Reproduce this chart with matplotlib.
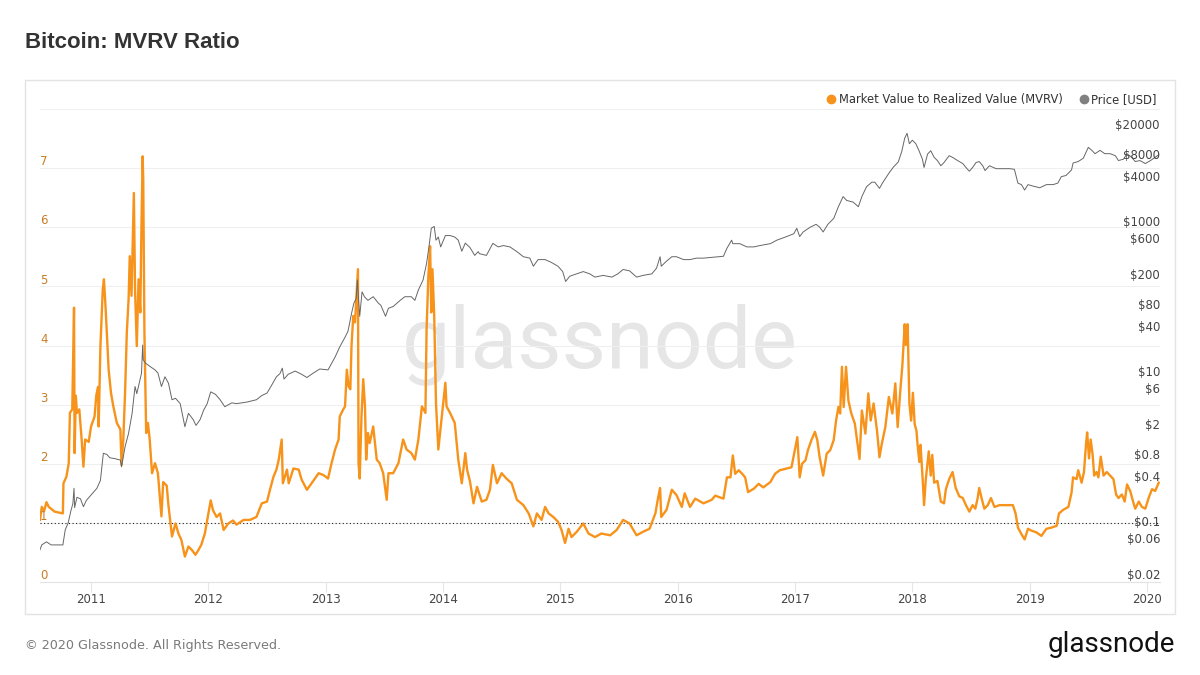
import matplotlib
matplotlib.use("Agg")
import matplotlib.pyplot as plt
from matplotlib.lines import Line2D
from matplotlib.patches import Rectangle
import matplotlib.transforms as mtransforms

# time axis in decimal years
mvrv_t = [
    2010.565, 2010.58, 2010.60, 2010.62, 2010.64, 2010.69, 2010.76, 2010.765, 2010.79, 2010.81,
    2010.82, 2010.84, 2010.855, 2010.86, 2010.87, 2010.88, 2010.90, 2010.92, 2010.935, 2010.95,
    2010.98, 2011.00, 2011.03, 2011.045, 2011.06, 2011.065, 2011.08, 2011.10, 2011.11, 2011.125,
    2011.14, 2011.15, 2011.17, 2011.19, 2011.22, 2011.25, 2011.26, 2011.275, 2011.29, 2011.305,
    2011.32, 2011.33, 2011.345, 2011.36, 2011.365, 2011.375, 2011.39, 2011.405, 2011.42, 2011.43,
    2011.44, 2011.445, 2011.455, 2011.47, 2011.485, 2011.50, 2011.52, 2011.545, 2011.57, 2011.60,
    2011.615, 2011.645, 2011.66, 2011.69, 2011.72, 2011.745, 2011.77, 2011.80, 2011.83, 2011.86,
    2011.89, 2011.915, 2011.94, 2011.97, 2012.00, 2012.02, 2012.04, 2012.07, 2012.10, 2012.13,
    2012.17, 2012.21, 2012.24, 2012.30, 2012.355, 2012.41, 2012.455, 2012.50, 2012.525, 2012.555,
    2012.58, 2012.60, 2012.625, 2012.635, 2012.67, 2012.685, 2012.725, 2012.77, 2012.795, 2012.84,
    2012.88, 2012.94, 2012.98, 2013.02, 2013.05, 2013.08, 2013.11, 2013.12, 2013.15, 2013.165,
    2013.18, 2013.195, 2013.21, 2013.22, 2013.235, 2013.25, 2013.265, 2013.275, 2013.28, 2013.29,
    2013.305, 2013.32, 2013.335, 2013.345, 2013.36, 2013.375, 2013.405, 2013.435, 2013.46, 2013.49,
    2013.52, 2013.535, 2013.575, 2013.62, 2013.66, 2013.69, 2013.73, 2013.76, 2013.79, 2013.82,
    2013.85, 2013.86, 2013.875, 2013.89, 2013.90, 2013.91, 2013.925, 2013.94, 2013.96, 2013.99,
    2014.02, 2014.03, 2014.06, 2014.10, 2014.13, 2014.16, 2014.19, 2014.205, 2014.23, 2014.26,
    2014.29, 2014.33, 2014.37, 2014.40, 2014.425, 2014.46, 2014.50, 2014.54, 2014.585, 2014.63,
    2014.685, 2014.73, 2014.77, 2014.80, 2014.84, 2014.87, 2014.90, 2014.94, 2014.98, 2015.01,
    2015.04, 2015.07, 2015.095, 2015.14, 2015.195, 2015.24, 2015.295, 2015.35, 2015.425, 2015.48,
    2015.535, 2015.59, 2015.65, 2015.705, 2015.76, 2015.81, 2015.83, 2015.85, 2015.86, 2015.905,
    2015.95, 2015.99, 2016.035, 2016.06, 2016.105, 2016.15, 2016.22, 2016.29, 2016.32, 2016.39,
    2016.42, 2016.45, 2016.47, 2016.49, 2016.52, 2016.55, 2016.575, 2016.60, 2016.65, 2016.69,
    2016.73, 2016.79, 2016.83, 2016.87, 2016.93, 2016.97, 2017.00, 2017.02, 2017.04, 2017.06,
    2017.09, 2017.11, 2017.14, 2017.17, 2017.19, 2017.21, 2017.24, 2017.27, 2017.30, 2017.33,
    2017.35, 2017.37, 2017.385, 2017.40, 2017.415, 2017.435, 2017.455, 2017.48, 2017.51, 2017.55,
    2017.57, 2017.60, 2017.625, 2017.645, 2017.67, 2017.70, 2017.72, 2017.74, 2017.77, 2017.80,
    2017.83, 2017.855, 2017.875, 2017.90, 2017.915, 2017.935, 2017.945, 2017.96, 2017.975, 2017.99,
    2018.005, 2018.02, 2018.035, 2018.045, 2018.06, 2018.07, 2018.09, 2018.10, 2018.115, 2018.14,
    2018.157, 2018.17, 2018.186, 2018.214, 2018.243, 2018.27, 2018.286, 2018.314, 2018.343, 2018.37,
    2018.40, 2018.43, 2018.457, 2018.486, 2018.514, 2018.537, 2018.557, 2018.57, 2018.594, 2018.614,
    2018.643, 2018.67, 2018.70, 2018.743, 2018.80, 2018.857, 2018.88, 2018.90, 2018.93, 2018.957,
    2018.986, 2019.014, 2019.057, 2019.10, 2019.143, 2019.186, 2019.23, 2019.25, 2019.286, 2019.33,
    2019.357, 2019.37, 2019.40, 2019.414, 2019.443, 2019.463, 2019.48, 2019.49, 2019.506, 2019.52,
    2019.537, 2019.55, 2019.57, 2019.586, 2019.606, 2019.63, 2019.657, 2019.686, 2019.714, 2019.737,
    2019.757, 2019.786, 2019.81, 2019.83, 2019.857, 2019.886, 2019.90, 2019.93, 2019.957, 2019.986,
    2020.014, 2020.043, 2020.07, 2020.10,
]
mvrv = [
    1.05, 1.27, 1.20, 1.35, 1.27, 1.19, 1.16, 1.67, 1.78, 2.01,
    2.86, 2.92, 4.64, 2.18, 3.15, 2.86, 2.92, 2.41, 1.95, 2.41,
    2.37, 2.63, 2.80, 3.16, 3.30, 2.63, 3.99, 4.95, 5.12, 4.60,
    3.99, 3.59, 3.20, 2.97, 2.69, 2.58, 1.98, 2.41, 3.20, 4.22,
    4.78, 5.51, 4.84, 6.18, 6.58, 4.95, 3.99, 5.12, 4.56, 6.06,
    7.20, 6.80, 4.22, 2.52, 2.69, 2.41, 1.84, 2.01, 1.84, 1.11,
    1.69, 1.63, 1.29, 0.77, 0.99, 0.82, 0.71, 0.43, 0.60, 0.54,
    0.46, 0.54, 0.63, 0.82, 1.16, 1.38, 1.21, 1.10, 1.16, 0.88,
    0.99, 1.04, 0.97, 1.05, 1.05, 1.10, 1.33, 1.36, 1.56, 1.78,
    1.90, 2.07, 2.41, 1.67, 1.90, 1.67, 1.92, 1.90, 1.73, 1.56,
    1.67, 1.84, 1.81, 1.75, 2.01, 2.24, 2.41, 2.80, 2.92, 2.97,
    3.59, 3.31, 3.26, 3.99, 4.50, 4.39, 4.95, 5.29, 2.01, 1.75,
    2.80, 3.43, 2.97, 2.07, 2.52, 2.35, 2.63, 2.07, 2.01, 1.84,
    1.39, 1.84, 1.84, 2.01, 2.41, 2.24, 2.18, 2.07, 2.41, 2.97,
    2.86, 4.28, 5.17, 5.68, 4.56, 5.29, 4.50, 3.03, 2.24, 2.80,
    3.37, 2.97, 2.86, 2.69, 2.07, 1.67, 2.18, 1.90, 1.70, 1.33,
    1.61, 1.36, 1.39, 1.56, 1.98, 1.67, 1.84, 1.75, 1.67, 1.39,
    1.30, 1.16, 0.94, 1.16, 1.05, 1.27, 1.16, 1.10, 1.02, 0.88,
    0.66, 0.90, 0.76, 0.85, 0.99, 0.82, 0.76, 0.82, 0.79, 0.88,
    1.05, 0.99, 0.79, 0.85, 0.90, 1.16, 1.39, 1.59, 1.10, 1.22,
    1.56, 1.47, 1.27, 1.50, 1.27, 1.41, 1.33, 1.39, 1.46, 1.41,
    1.77, 1.77, 2.14, 1.83, 1.89, 1.83, 1.77, 1.52, 1.58, 1.66,
    1.60, 1.69, 1.83, 1.89, 1.92, 1.94, 2.25, 2.45, 1.77, 2.00,
    2.06, 2.23, 2.40, 2.54, 2.40, 2.11, 1.80, 2.17, 2.23, 2.40,
    2.73, 2.96, 2.85, 3.64, 2.96, 3.64, 3.07, 2.85, 2.68, 2.08,
    2.90, 2.51, 3.19, 2.73, 3.02, 2.54, 2.11, 2.34, 2.62, 3.13,
    2.85, 3.36, 2.62, 3.30, 3.66, 4.36, 4.01, 4.36, 3.02, 2.73,
    3.20, 2.67, 2.56, 2.32, 2.03, 2.32, 1.68, 1.30, 1.74, 2.21,
    1.80, 2.15, 1.68, 1.71, 1.36, 1.33, 1.57, 1.74, 1.86, 1.59,
    1.45, 1.42, 1.30, 1.19, 1.30, 1.24, 1.42, 1.59, 1.39, 1.24,
    1.30, 1.42, 1.27, 1.30, 1.30, 1.30, 1.16, 0.92, 0.81, 0.72,
    0.90, 0.87, 0.84, 0.78, 0.90, 0.92, 0.95, 1.16, 1.22, 1.27,
    1.51, 1.77, 1.74, 1.89, 1.68, 1.86, 2.32, 2.53, 2.09, 2.41,
    2.15, 1.80, 1.86, 1.77, 2.12, 1.80, 1.86, 1.80, 1.74, 1.48,
    1.42, 1.48, 1.36, 1.65, 1.54, 1.33, 1.24, 1.36, 1.27, 1.24,
    1.42, 1.57, 1.54, 1.68,
]

price_t = [
    2010.565, 2010.58, 2010.62, 2010.66, 2010.76, 2010.78, 2010.805, 2010.83, 2010.845, 2010.855,
    2010.86, 2010.88, 2010.91, 2010.935, 2010.96, 2011.00, 2011.05, 2011.08, 2011.105, 2011.135,
    2011.16, 2011.205, 2011.25, 2011.26, 2011.29, 2011.32, 2011.35, 2011.375, 2011.39, 2011.41,
    2011.43, 2011.44, 2011.445, 2011.465, 2011.50, 2011.545, 2011.57, 2011.60, 2011.63, 2011.66,
    2011.69, 2011.72, 2011.76, 2011.80, 2011.83, 2011.87, 2011.895, 2011.93, 2011.96, 2011.99,
    2012.02, 2012.06, 2012.10, 2012.14, 2012.20, 2012.24, 2012.33, 2012.41, 2012.455, 2012.50,
    2012.54, 2012.58, 2012.61, 2012.63, 2012.645, 2012.68, 2012.74, 2012.795, 2012.84, 2012.895,
    2012.95, 2013.02, 2013.05, 2013.08, 2013.12, 2013.165, 2013.19, 2013.22, 2013.24, 2013.26,
    2013.27, 2013.28, 2013.29, 2013.31, 2013.33, 2013.36, 2013.405, 2013.45, 2013.47, 2013.51,
    2013.535, 2013.575, 2013.635, 2013.675, 2013.73, 2013.76, 2013.79, 2013.83, 2013.86, 2013.88,
    2013.90, 2013.925, 2013.94, 2013.96, 2013.98, 2014.02, 2014.06, 2014.10, 2014.13, 2014.16,
    2014.19, 2014.23, 2014.27, 2014.30, 2014.31, 2014.37, 2014.425, 2014.47, 2014.515, 2014.57,
    2014.63, 2014.685, 2014.74, 2014.77, 2014.81, 2014.87, 2014.92, 2014.98, 2015.02, 2015.045,
    2015.08, 2015.14, 2015.195, 2015.25, 2015.295, 2015.365, 2015.44, 2015.49, 2015.535, 2015.59,
    2015.65, 2015.705, 2015.78, 2015.82, 2015.85, 2015.86, 2015.905, 2015.95, 2015.99, 2016.05,
    2016.105, 2016.16, 2016.22, 2016.305, 2016.39, 2016.42, 2016.46, 2016.47, 2016.53, 2016.59,
    2016.65, 2016.70, 2016.79, 2016.845, 2016.93, 2016.99, 2017.015, 2017.04, 2017.07, 2017.13,
    2017.18, 2017.21, 2017.24, 2017.28, 2017.33, 2017.37, 2017.41, 2017.44, 2017.495, 2017.54,
    2017.57, 2017.61, 2017.655, 2017.68, 2017.72, 2017.75, 2017.80, 2017.84, 2017.88, 2017.91,
    2017.935, 2017.955, 2017.975, 2018.00, 2018.03, 2018.057, 2018.086, 2018.10, 2018.13, 2018.157,
    2018.186, 2018.214, 2018.243, 2018.27, 2018.314, 2018.343, 2018.386, 2018.43, 2018.457, 2018.486,
    2018.514, 2018.543, 2018.57, 2018.60, 2018.62, 2018.657, 2018.714, 2018.77, 2018.83, 2018.87,
    2018.90, 2018.93, 2018.957, 2018.986, 2019.03, 2019.086, 2019.143, 2019.20, 2019.24, 2019.27,
    2019.31, 2019.357, 2019.37, 2019.414, 2019.457, 2019.50, 2019.53, 2019.557, 2019.60, 2019.64,
    2019.686, 2019.73, 2019.757, 2019.80, 2019.83, 2019.87, 2019.90, 2019.94, 2019.986, 2020.03,
    2020.07, 2020.10,
]
price = [
    0.044, 0.051, 0.056, 0.051, 0.051, 0.081, 0.10, 0.149, 0.18, 0.29,
    0.16, 0.22, 0.21, 0.165, 0.20, 0.236, 0.29, 0.37, 0.85, 0.82,
    0.74, 0.72, 0.69, 0.56, 1.04, 1.57, 2.9, 6.6, 5.3, 7.3,
    9.9, 23.6, 15, 13.5, 12.3, 11, 10, 6.6, 8.9, 7.3,
    4.4, 4.6, 3.9, 1.92, 2.9, 2.4, 2.0, 2.4, 3.2, 3.9,
    5.6, 5.2, 4.4, 3.55, 4.0, 3.9, 4.1, 4.4, 5.0, 5.4,
    6.9, 8.9, 9.8, 11.6, 8.3, 9.6, 10.6, 9.6, 8.7, 10.0,
    11.3, 11.0, 13.4, 16.3, 22.3, 30, 36, 62, 85, 99,
    174, 95, 57, 121, 104, 93, 104, 85, 80, 57,
    73, 77, 93, 104, 104, 93, 128, 174, 290, 480,
    850, 900, 590, 650, 480, 680, 680, 650, 590, 420,
    540, 470, 370, 415, 390, 370, 535, 480, 500, 480,
    415, 355, 340, 265, 325, 325, 300, 265, 225, 166,
    195, 210, 225, 210, 190, 200, 190, 210, 240, 230,
    190, 200, 210, 250, 355, 265, 310, 355, 355, 325,
    325, 340, 340, 350, 360, 460, 590, 530, 530, 480,
    480, 500, 530, 590, 660, 720, 850, 660, 760, 880,
    960, 880, 760, 960, 1150, 1650, 2250, 2000, 1900, 1650,
    2250, 3050, 3500, 3500, 2900, 3500, 4600, 5600, 6500, 9000,
    13500, 15700, 11400, 12700, 11400, 9200, 7100, 5500, 8300, 9200,
    7500, 6800, 5800, 6400, 7900, 7500, 6800, 6200, 5500, 4900,
    5500, 6400, 6600, 5800, 5000, 5800, 5300, 5300, 5300, 5200,
    3400, 3250, 2750, 3250, 3100, 2950, 3250, 3250, 3400, 4150,
    4300, 5100, 6300, 6600, 7300, 10200, 9300, 8400, 9300, 8400,
    8400, 7900, 6800, 7100, 8400, 7500, 6600, 6800, 6200, 6800,
    7500, 8100,
]

years = [2011, 2012, 2013, 2014, 2015, 2016, 2017, 2018, 2019, 2020]
mvrv_ticks = [0, 1, 2, 3, 4, 5, 6, 7, 8]
mvrv_labels = ["0", "1", "2", "3", "4", "5", "6", "7"]
price_ticks = [0.02, 0.06, 0.1, 0.4, 0.8, 2, 6, 10, 40, 80, 200, 600, 1000, 4000, 8000, 20000]

ORANGE = "#f7931a"
GREY = "#666666"
W, H = 1200, 675

fig = plt.figure(figsize=(12, 6.75), dpi=100)
fig.patch.set_facecolor("white")

# outer frame
fig.patches.append(Rectangle((25 / W, 1 - 614 / H), 1150 / W, 534 / H,
                             transform=fig.transFigure, fill=False,
                             edgecolor="#e3e3e3", lw=1.0))

fig.text(25 / W, 1 - 43 / H, "Bitcoin: MVRV Ratio", fontsize=16, fontweight="bold",
         family="Liberation Sans", color="#333333", va="center", ha="left")

ax = fig.add_axes([40 / W, 1 - 582 / H, 1120 / W, 473 / H])
ax.set_xlim(2010.565, 2020.111)
ax.set_ylim(0, 8)

# watermark
ax.text(0.5, 0.5, "glassnode", transform=ax.transAxes, fontsize=62, family="Roboto",
        color="#e6e6e6", ha="center", va="center", zorder=0)

ax.axhline(1, color="#222222", lw=0.8, ls=(0, (1, 2.2)), zorder=2)
ax.plot(mvrv_t, mvrv, color=ORANGE, lw=1.7, zorder=3)

ax2 = ax.twinx()
ax2.set_yscale("log")
ax2.set_ylim(10 ** -1.787, 10 ** 4.52)
ax2.set_xlim(ax.get_xlim())
ax2.plot(price_t, price, color=GREY, lw=0.7)
ax2.set_yticks([])
ax2.minorticks_off()
ax2.tick_params(axis="y", right=False, labelright=False, which="both")
for s in ax2.spines.values():
    s.set_visible(False)
for v in price_ticks:
    ax2.text(1.0, v, "$%g" % v, transform=ax2.get_yaxis_transform(), ha="right",
             va="center", fontsize=8.5, color="#444444")

# left axis styling (after twinx, which turns left ticks back on)
ax.set_yticks(mvrv_ticks)
ax.grid(axis="y", color="#efefef", lw=0.8)
ax.set_axisbelow(True)
ax.tick_params(axis="y", which="both", left=False, right=False,
               labelleft=False, labelright=False)
for s in ["top", "right", "left"]:
    ax.spines[s].set_visible(False)
ax.spines["bottom"].set_color("#e3e3e3")

ax.set_xticks(years)
ax.set_xticklabels([str(y) for y in years])
ax.tick_params(axis="x", length=7, width=0.8, color="#e6e6e6", pad=1,
               labelsize=8.5, labelcolor="#444444")

lab_tr = mtransforms.offset_copy(ax.get_yaxis_transform(), fig=fig, x=0, y=2, units="points")
for v, lab in zip(mvrv_ticks, mvrv_labels):
    ax.text(0.0, v, lab, transform=lab_tr, ha="left", va="baseline",
            fontsize=8.5, color="#c97d27")

handles = [Line2D([], [], marker="o", ls="", color=ORANGE, ms=6),
           Line2D([], [], marker="o", ls="", color="#808080", ms=6)]
ax.legend(handles, ["Market Value to Realized Value (MVRV)", "Price [USD]"],
          loc="lower right", bbox_to_anchor=(1.0, 1.0), ncol=2, frameon=False,
          fontsize=8.3, handletextpad=0.25, handlelength=0.8, columnspacing=1.4,
          borderpad=0.1, borderaxespad=0.2, labelcolor="#333333")

fig.text(25 / W, 1 - 645 / H, "\u00a9 2020 Glassnode. All Rights Reserved.", fontsize=9.2,
         color="#7a7a7a", ha="left", va="center")
fig.text(1175 / W, 1 - 645 / H, "glassnode", fontsize=20, family="Roboto",
         color="#111111", ha="right", va="center")

fig.savefig("out.png", dpi=100, facecolor="white")
